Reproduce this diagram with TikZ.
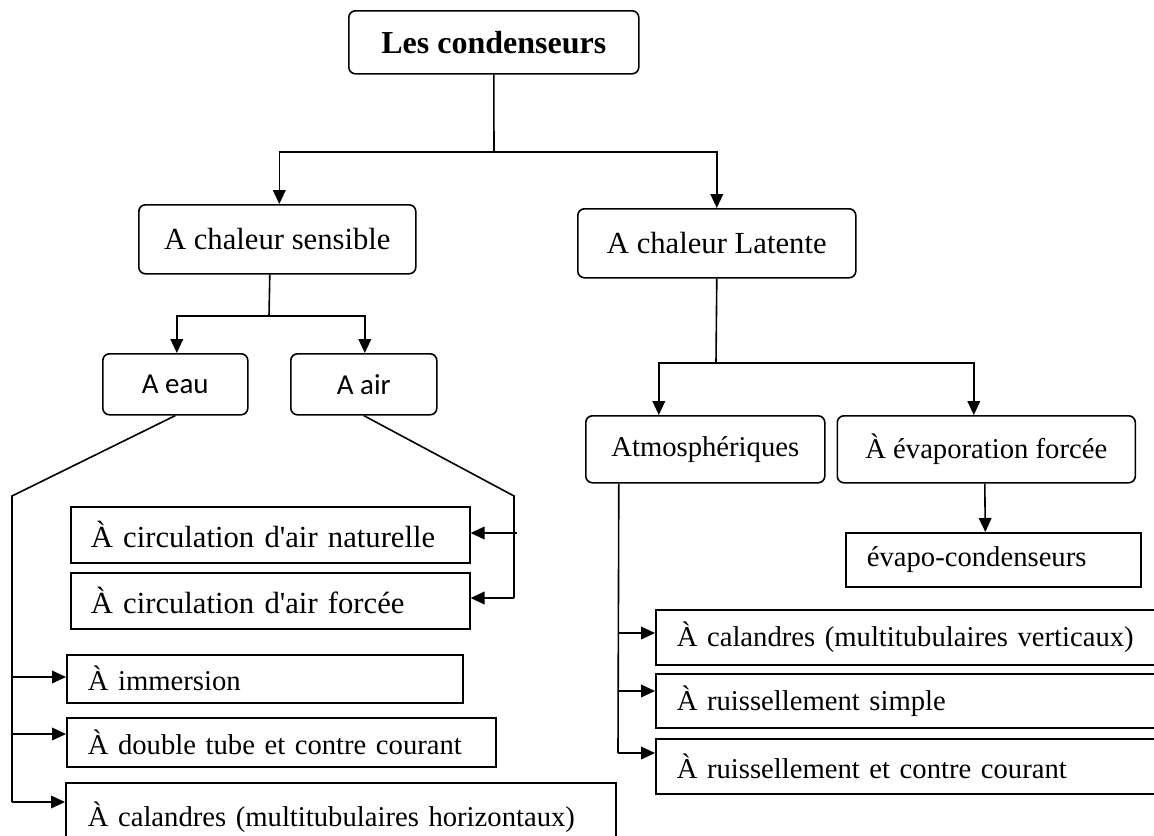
\documentclass[tikz,border=0pt]{standalone}
\usepackage{fontspec}
\setmainfont{Liberation Serif}
\newfontfamily\calib{Carlito}
\usetikzlibrary{arrows.meta,calc}
\begin{document}
\begin{tikzpicture}[x=0.75pt,y=-0.75pt,
 line/.style={line width=1.2pt},
 arr/.style={line width=1.2pt,-{Triangle[length=10.5pt,width=9.5pt]}},
 rbox/.style={draw,line width=1.2pt,rounded corners=5pt,anchor=north west,inner sep=0pt,align=center},
 sbox/.style={draw,line width=1.2pt,anchor=north west,inner sep=0pt,align=left},
 cam/.style={font=\fontsize{23}{27}\selectfont},
 tim/.style={font=\fontsize{21.5}{25}\selectfont},
 cal/.style={font=\calib\fontsize{21.7}{26}\selectfont},
]
\clip (0,0) rectangle (1154,836);
\fill[white] (0,0) rectangle (1154,836);

% rounded boxes
\node[rbox,font=\bfseries\fontsize{24}{28}\selectfont,minimum width=217.5pt,minimum height=47.25pt] (top) at (348,10) {Les condenseurs};
\node[rbox,cam,minimum width=207.75pt,minimum height=51.75pt] (sens) at (138,204) {A chaleur sensible};
\node[rbox,cam,minimum width=208.5pt,minimum height=51.75pt] (lat) at (577,208) {A chaleur Latente};
\node[rbox,cal,minimum width=108.75pt,minimum height=45.75pt] (eau) at (102,353) {A eau};
\node[rbox,cal,minimum width=109.5pt,minimum height=45.75pt] (air) at (290,353) {A air};
\node[rbox,tim,minimum width=179.25pt,minimum height=50.25pt] (atm) at (585,415) {Atmosphériques};
\node[rbox,tim,minimum width=223.5pt,minimum height=50.25pt] (evf) at (836.5,415) {À évaporation forcée};

% square boxes
\node[sbox,tim,minimum height=40.5pt,inner xsep=15.75pt,text width=189.75pt] (evc) at (845,532) {évapo-condenseurs};
\node[sbox,cam,minimum height=42pt,inner xsep=15pt,text width=269.25pt] (nat) at (70,506) {À circulation d\textquotesingle air naturelle};
\node[sbox,cam,minimum height=42pt,inner xsep=15pt,text width=269.25pt] (frc) at (70,572) {À circulation d\textquotesingle air forcée};
\node[sbox,tim,minimum height=36pt,inner xsep=15.75pt,text width=265.5pt] (imm) at (66,654) {À immersion};
\node[sbox,tim,minimum height=36.75pt,inner xsep=15.75pt,text width=290.25pt] (dbl) at (66,717) {À double tube et contre courant};
\node[sbox,tim,minimum height=52pt,inner xsep=16.5pt,text width=379.5pt] (calh) at (65,782) {À calandres (multitubulaires horizontaux)};
\node[sbox,tim,minimum height=41.25pt,inner xsep=15.75pt,text width=358.5pt] (calv) at (655,609) {À calandres (multitubulaires verticaux)};
\node[sbox,tim,minimum height=40.5pt,inner xsep=15.75pt,text width=358.5pt] (ruis) at (655,673) {À ruissellement simple};
\node[sbox,tim,minimum height=41.25pt,inner xsep=15.75pt,text width=358.5pt] (rcc) at (655,738) {À ruissellement et contre courant};

% top level
\coordinate (j0) at (494,152);
\draw[line] (top.south) -- (j0);
\draw[arr] (j0) -| ($(sens.north)+(2,0)$);
\draw[arr] (j0) -| (lat.north);

% sensible
\coordinate (j1) at (269,316);
\draw[line] ($(sens.south)+(-7.5,0)$) -- (j1);
\draw[arr] (j1) -| ($(eau.north)+(1.5,0)$);
\draw[arr] (j1) -| ($(air.north)+(1,0)$);

% latente
\coordinate (j2) at (716,363);
\draw[line] (lat.south) -- (j2);
\draw[arr] (j2) -| ($(atm.north)+(-46.5,0)$);
\draw[arr] (j2) -| ($(evf.north)+(-12.5,0)$);
\draw[arr] ($(evf.south)+(-1.5,0)$) -- ($(evc.north)+(-8,0)$);

% atmospheriques
\coordinate (t1) at (618,633);
\coordinate (t2) at (618,691);
\coordinate (t3) at (618,753);
\draw[line] ($(atm.south)+(-86.5,0)$) -- (t3);
\draw[arr] (t1) -- (t1 -| calv.west);
\draw[arr] (t2) -- (t2 -| ruis.west);
\draw[arr] (t3) -- (t3 -| rcc.west);

% a eau
\coordinate (e0) at (12,496);
\coordinate (e1) at (12,677);
\coordinate (e2) at (12,734);
\coordinate (e3) at (12,802);
\draw[line] (eau.south) -- (e0) -- (e3);
\draw[arr] (e1) -- (e1 -| imm.west);
\draw[arr] (e2) -- (e2 -| dbl.west);
\draw[arr] (e3) -- (e3 -| calh.west);

% a air
\coordinate (r0) at (514,496);
\coordinate (r1) at (517,533);
\coordinate (r2) at (514,598);
\draw[line] (air.south) -- (r0) -- (r2);
\draw[arr] (r1) -- (r1 -| nat.east);
\draw[arr] (r2) -- (r2 -| frc.east);
\end{tikzpicture}
\end{document}
